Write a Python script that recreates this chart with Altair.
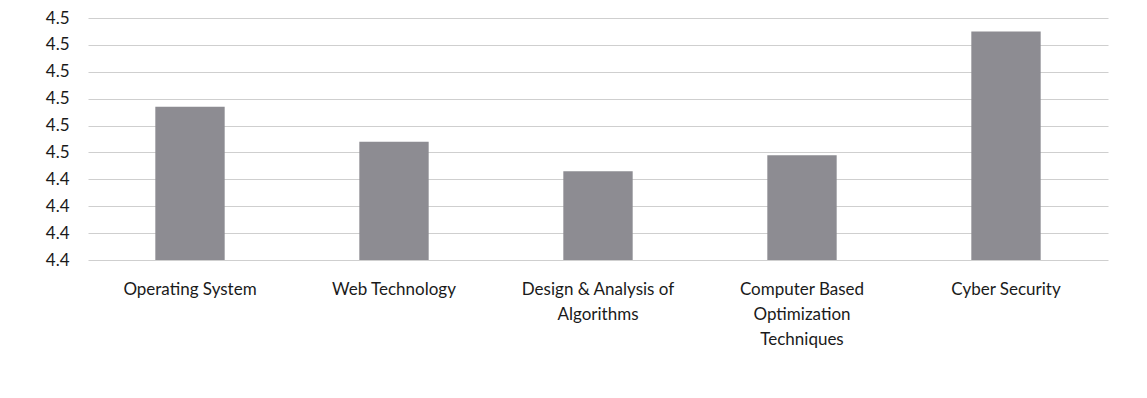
import altair as alt
import pandas as pd

subjects = [
    "Operating System",
    "Web Technology",
    "Design & Analysis of|Algorithms",
    "Computer Based|Optimization|Techniques",
    "Cyber Security",
]
scores = [4.467, 4.454, 4.443, 4.449, 4.495]
tick_values = [4.41, 4.42, 4.43, 4.44, 4.45, 4.46, 4.47, 4.48, 4.49, 4.50]
axis_min = 4.41
axis_max = 4.50

df = pd.DataFrame({"subject": subjects, "score": scores, "base": [axis_min] * len(scores)})

font = "Lato"

chart = alt.Chart(df).mark_bar(color="#8d8c92").encode(
    x=alt.X(
        "subject:N",
        sort=subjects,
        scale=alt.Scale(paddingInner=0.66, paddingOuter=0.33),
        axis=alt.Axis(
            title=None,
            labelExpr="split(datum.label, '|')",
            labelAngle=0,
            labelFont=font,
            labelFontSize=17,
            labelColor="#1a1a1a",
            labelPadding=21,
            labelLineHeight=25,
            labelBaseline="top",
            labelLimit=300,
            ticks=False,
            domain=False,
        ),
    ),
    y=alt.Y(
        "score:Q",
        scale=alt.Scale(domain=[axis_min, axis_max], zero=False, nice=False),
        axis=alt.Axis(
            title=None,
            values=tick_values,
            format=".1f",
            labelFont=font,
            labelFontSize=17,
            labelColor="#1a1a1a",
            labelPadding=19,
            ticks=False,
            domain=False,
            grid=True,
            gridColor="#cfcfcf",
            gridWidth=1,
        ),
    ),
    y2="base:Q",
).properties(
    width=1020,
    height=242,
    autosize=alt.AutoSizeParams(type="none"),
    padding={"left": 80, "top": 10, "right": 29, "bottom": 120},
).configure_view(stroke=None)

chart.save("out.html", embed_options={"renderer": "svg", "actions": False})
